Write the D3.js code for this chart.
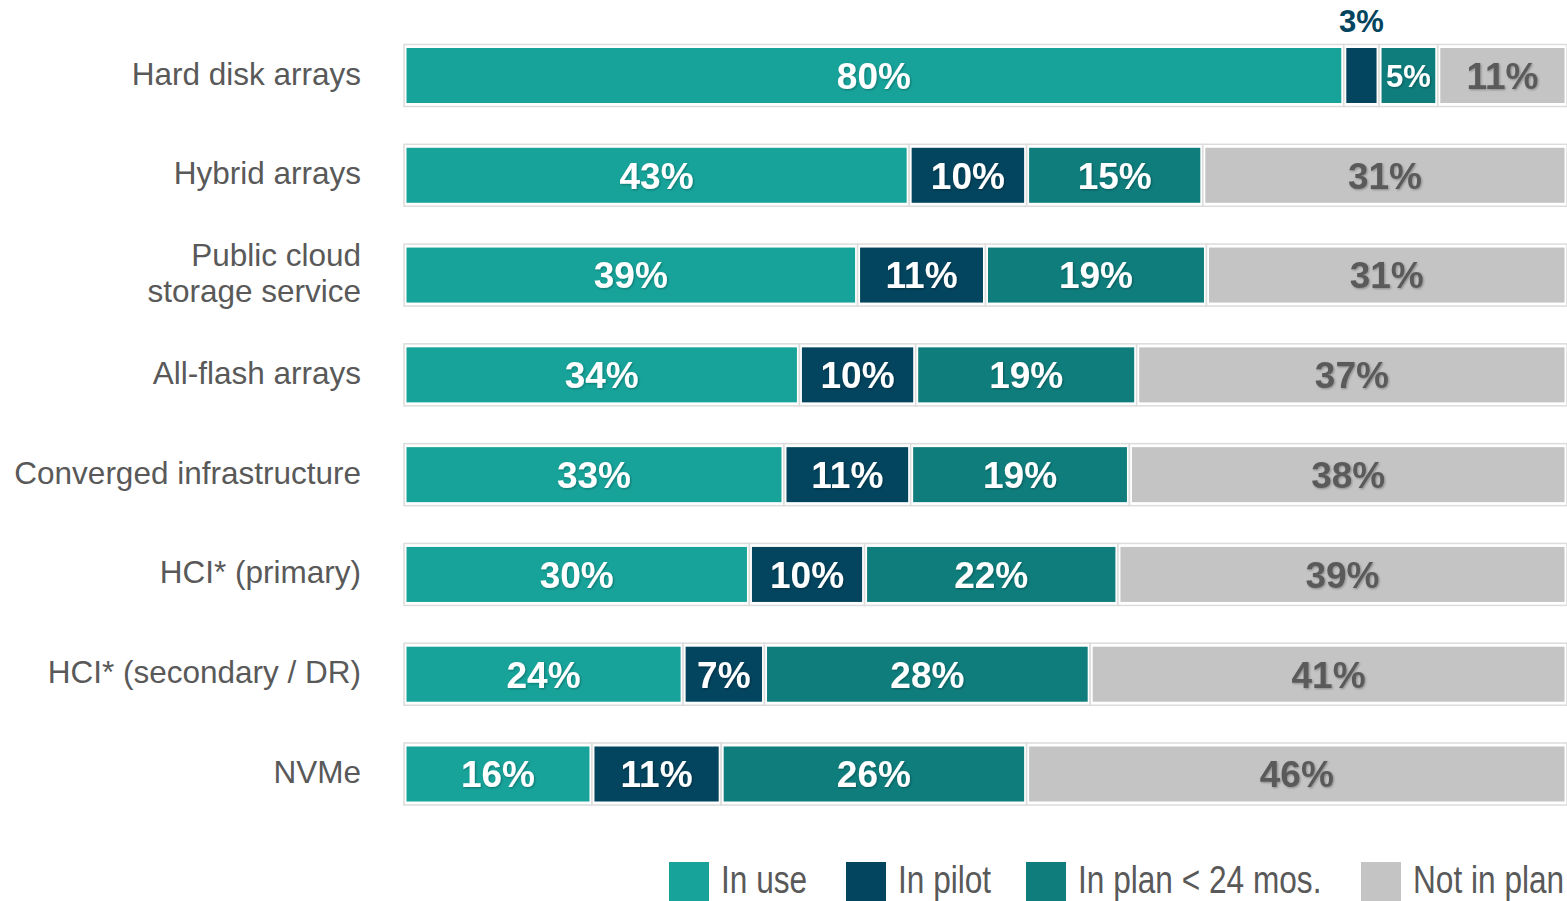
<!DOCTYPE html>
<html>
  <head>
    <title>Storage adoption</title>
    <meta charset="utf-8" />
    <script src="https://d3js.org/d3.v7.min.js"></script>
    <style>
      body { margin: 0; background: #fff; }
      svg { display: block; }
    </style>
  </head>
  <body>
    <div id="chart"></div>
    <script>
      // data
      var categories = [
        "Hard disk arrays",
        "Hybrid arrays",
        "Public cloud|storage service",
        "All-flash arrays",
        "Converged infrastructure",
        "HCI* (primary)",
        "HCI* (secondary / DR)",
        "NVMe"
      ];
      var seriesNames = ["In use", "In pilot", "In plan < 24 mos.", "Not in plan"];
      var inUse = [80, 43, 39, 34, 33, 30, 24, 16];
      var inPilot = [3, 10, 11, 10, 11, 10, 7, 11];
      var inPlan = [5, 15, 19, 19, 19, 22, 28, 26];
      var notInPlan = [11, 31, 31, 37, 38, 39, 41, 46];

      var colors = ["#17a39a", "#03445e", "#0e7d7c", "#c4c4c4"];
      var labelColors = ["#fff", "#fff", "#fff", "#5a5a5a"];

      var width = 1567,
        height = 901;

      var rows = categories.map(function (c, i) {
        return { cat: c, s0: inUse[i], s1: inPilot[i], s2: inPlan[i], s3: notInPlan[i] };
      });
      var keys = ["s0", "s1", "s2", "s3"];

      var stack = d3.stack().keys(keys).offset(d3.stackOffsetExpand);
      var series = stack(rows);

      var x = d3.scaleLinear().domain([0, 1]).range([404, 1567]);
      var y = d3.scalePoint().domain(categories).range([75.5, 774]);

      var svg = d3
        .select("#chart")
        .append("svg")
        .attr("width", width)
        .attr("height", height);

      var defs = svg.append("defs");
      var f = defs.append("filter").attr("id", "shadow").attr("x", "-20%").attr("y", "-20%").attr("width", "140%").attr("height", "140%");
      f.append("feDropShadow").attr("dx", 1).attr("dy", 1).attr("stdDeviation", 0.8).attr("flood-color", "#000").attr("flood-opacity", 0.3);

      // category labels
      svg
        .append("g")
        .selectAll("text")
        .data(categories)
        .enter()
        .append("text")
        .attr("x", 361)
        .attr("y", function (d) {
          return y(d) - 2;
        })
        .attr("text-anchor", "end")
        .style("font-family", "'Liberation Sans', Arial, sans-serif")
        .style("font-size", "31.5px")
        .style("fill", "#595959")
        .each(function (d) {
          var parts = d.split("|");
          var t = d3.select(this);
          parts.forEach(function (p, j) {
            t.append("tspan")
              .attr("x", 361)
              .attr("dy", j === 0 ? (0.35 - (parts.length - 1) * 0.57) + "em" : "1.14em")
              .text(p);
          });
        });

      var outerH = 62,
        innerH = 55;

      var groups = svg
        .append("g")
        .selectAll("g")
        .data(series)
        .enter()
        .append("g");

      // outline of each segment
      groups
        .selectAll("rect.outer")
        .data(function (d) {
          return d;
        })
        .enter()
        .append("rect")
        .attr("class", "outer")
        .attr("x", function (d) {
          return x(d[0]);
        })
        .attr("y", function (d) {
          return y(d.data.cat) - outerH / 2;
        })
        .attr("width", function (d) {
          return x(d[1]) - x(d[0]);
        })
        .attr("height", outerH)
        .style("fill", "#fff")
        .style("stroke", "#dcdcdc")
        .style("stroke-width", 1.5);

      groups
        .selectAll("rect.inner")
        .data(function (d) {
          return d;
        })
        .enter()
        .append("rect")
        .attr("class", "inner")
        .attr("x", function (d) {
          return x(d[0]) + 2.5;
        })
        .attr("y", function (d) {
          return y(d.data.cat) - innerH / 2;
        })
        .attr("width", function (d) {
          return Math.max(0, x(d[1]) - x(d[0]) - 5);
        })
        .attr("height", innerH)
        .style("fill", function () {
          return colors[keys.indexOf(d3.select(this.parentNode).datum().key)];
        });

      // value labels
      groups.each(function (s, si) {
        d3.select(this)
          .selectAll("text")
          .data(s)
          .enter()
          .append("text")
          .attr("x", function (d) {
            return (x(d[0]) + x(d[1])) / 2;
          })
          .attr("y", function (d) {
            var w = x(d[1]) - x(d[0]);
            return w < 45 ? y(d.data.cat) - 55 : y(d.data.cat);
          })
          .attr("dy", "0.36em")
          .attr("text-anchor", "middle")
          .style("font-family", "'Liberation Sans', Arial, sans-serif")
          .style("font-weight", "bold")
          .style("font-size", function (d) {
            var w = x(d[1]) - x(d[0]);
            return w < 70 ? "31px" : "37px";
          })
          .style("fill", function (d) {
            var w = x(d[1]) - x(d[0]);
            return w < 45 ? colors[1] : labelColors[si];
          })
          .attr("filter", function (d) {
            var w = x(d[1]) - x(d[0]);
            return w < 45 ? null : "url(#shadow)";
          })
          .text(function (d) {
            return d.data[s.key] + "%";
          });
      });

      // legend
      var legendX = [669, 846, 1026, 1361];
      var legend = svg
        .append("g")
        .selectAll("g")
        .data(seriesNames)
        .enter()
        .append("g")
        .attr("transform", function (d, i) {
          return "translate(" + legendX[i] + ",862)";
        });
      legend
        .append("rect")
        .attr("width", 40)
        .attr("height", 40)
        .style("fill", function (d, i) {
          return colors[i];
        });
      // the legend font is condensed and tall
      legend
        .append("g")
        .attr("transform", "translate(52,30.5) scale(0.855,1.05)")
        .append("text")
        .style("font-family", "'Liberation Sans', Arial, sans-serif")
        .style("font-size", "37px")
        .style("fill", "#595959")
        .text(function (d) {
          return d;
        });
    </script>
  </body>
</html>
